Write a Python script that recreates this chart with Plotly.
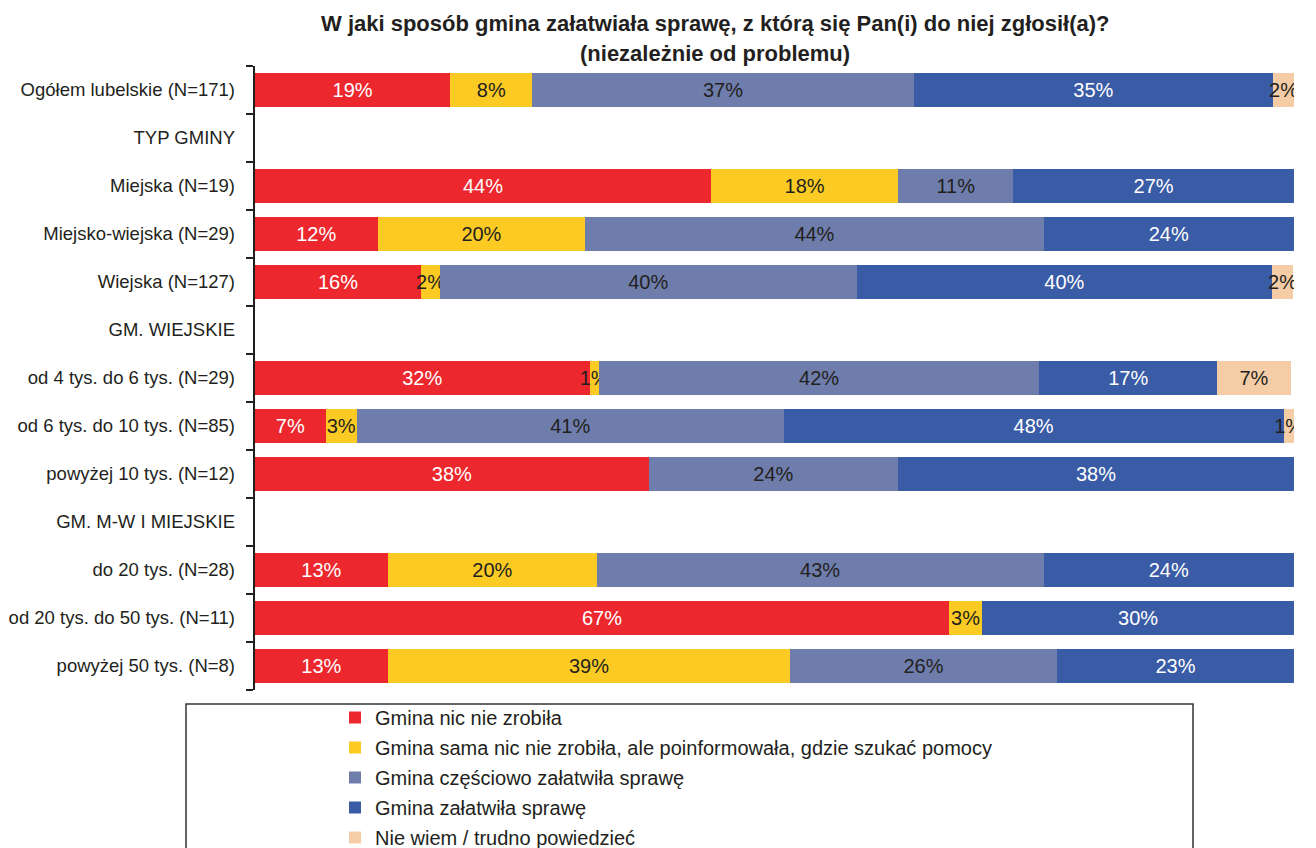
import plotly.graph_objects as go

categories = [
    "Ogółem lubelskie (N=171)",
    "TYP GMINY",
    "Miejska (N=19)",
    "Miejsko-wiejska (N=29)",
    "Wiejska (N=127)",
    "GM. WIEJSKIE",
    "od 4 tys. do 6 tys. (N=29)",
    "od 6 tys. do 10 tys. (N=85)",
    "powyżej 10 tys. (N=12)",
    "GM. M-W I MIEJSKIE",
    "do 20 tys. (N=28)",
    "od 20 tys. do 50 tys. (N=11)",
    "powyżej 50 tys. (N=8)",
]

series_names = [
    "Gmina nic nie zrobiła",
    "Gmina sama nic nie zrobiła, ale poinformowała, gdzie szukać pomocy",
    "Gmina częściowo załatwiła sprawę",
    "Gmina załatwiła sprawę",
    "Nie wiem / trudno powiedzieć",
]

nic_nie_zrobila = [18.8, None, 43.9, 11.8, 16.0, None, 32.2, 6.8, 37.9, None, 12.8, 66.8, 12.8]
poinformowala = [7.9, None, 18.0, 20.0, 1.8, None, 0.9, 3.0, None, None, 20.1, 3.2, 38.7]
czesciowo = [36.7, None, 11.1, 44.1, 40.1, None, 42.4, 41.1, 24.0, None, 43.0, None, 25.7]
zalatwila = [34.6, None, 27.0, 24.1, 40.0, None, 17.1, 48.1, 38.1, None, 24.1, 30.0, 22.8]
nie_wiem = [2.0, None, None, None, 2.0, None, 7.1, 1.0, None, None, None, None, None]

series_values = [nic_nie_zrobila, poinformowala, czesciowo, zalatwila, nie_wiem]
colors = ["#EC282E", "#FCCB23", "#6E7DAB", "#3A5BA5", "#F4CDA6"]
text_colors = ["#FFFFFF", "#231F20", "#231F20", "#FFFFFF", "#231F20"]

FONT = "Liberation Sans, Arial, Helvetica, sans-serif"
TITLE_FONT = "Liberation Sans Narrow, Arial Narrow, Liberation Sans, Arial"
DARK = "#231F20"

fig = go.Figure()
for name, vals, col, tcol in zip(series_names, series_values, colors, text_colors):
    fig.add_trace(go.Bar(
        name=name,
        y=categories,
        x=vals,
        orientation="h",
        marker=dict(color=col, line=dict(width=0)),
        text=[f"{round(v)}%" if v else "" for v in vals],
        textposition="inside",
        insidetextanchor="middle",
        textangle=0,
        constraintext="none",
        insidetextfont=dict(family=FONT, size=20, color=tcol),
        legendgroup=name,
        hoverinfo="skip",
    ))

n = len(categories)

# invisible helper trace so the overlaid boundary-tick axis is drawn
fig.add_trace(go.Scatter(
    x=[0], y=[0], xaxis="x", yaxis="y2", mode="markers",
    marker=dict(opacity=0), showlegend=False, hoverinfo="skip",
))

# plot area geometry (page pixels)
L, R, T, B = 255, 1294, 66, 690
W, H = R - L, B - T

def px_x(x):
    return (x - L) / W

def px_y(y):
    return (B - y) / H

legend_box = dict(
    type="rect", xref="paper", yref="paper",
    x0=px_x(186), x1=px_x(1193), y0=px_y(704), y1=px_y(880),
    line=dict(color="#333333", width=1.5),
    fillcolor="rgba(0,0,0,0)",
    layer="above",
)

fig.update_layout(
    width=1316,
    height=848,
    margin=dict(l=L, r=1316 - R, t=T, b=848 - B, autoexpand=False),
    paper_bgcolor="white",
    plot_bgcolor="white",
    barmode="stack",
    bargap=0.31,
    font=dict(family=FONT, color=DARK),
    showlegend=True,
    legend=dict(
        xref="container", yref="container",
        x=335 / 1316, y=1 - 698 / 848,
        xanchor="left", yanchor="top",
        font=dict(family=FONT, size=20, color=DARK),
        traceorder="grouped",
        tracegroupgap=1,
        bgcolor="rgba(0,0,0,0)",
        itemclick=False,
    ),
    xaxis=dict(range=[0, 100], visible=False, fixedrange=True),
    yaxis=dict(
        categoryorder="array",
        categoryarray=categories,
        range=[n - 0.5, -0.5],
        showline=False,
        ticks="",
        ticklabelstandoff=19,
        tickfont=dict(family=FONT, size=18.5, color=DARK),
        showgrid=False,
        zeroline=False,
        fixedrange=True,
    ),
    yaxis2=dict(
        overlaying="y",
        side="left",
        anchor="x",
        type="linear",
        range=[n - 0.5, -0.5],
        tickmode="array",
        tickvals=[i - 0.5 for i in range(n + 1)],
        showticklabels=False,
        ticks="outside",
        ticklen=7,
        tickwidth=1.5,
        tickcolor=DARK,
        showline=True,
        linecolor=DARK,
        linewidth=1.5,
        showgrid=False,
        zeroline=False,
        fixedrange=True,
    ),
    shapes=[legend_box],
    annotations=[
        dict(
            text="<b>W jaki sposób gmina załatwiała sprawę, z którą się Pan(i) do niej zgłosił(a)?</b>",
            xref="paper", yref="paper", x=px_x(715), y=px_y(23),
            xanchor="center", yanchor="middle", showarrow=False,
            font=dict(family=TITLE_FONT, size=22, color=DARK),
        ),
        dict(
            text="<b>(niezależnie od problemu)</b>",
            xref="paper", yref="paper", x=px_x(715), y=px_y(53),
            xanchor="center", yanchor="middle", showarrow=False,
            font=dict(family=TITLE_FONT, size=22, color=DARK),
        ),
    ],
)

fig.write_html(
    "out.html",
    config={"displayModeBar": False},
    post_script="document.body.style.margin='0';document.body.style.overflow='hidden';",
)
